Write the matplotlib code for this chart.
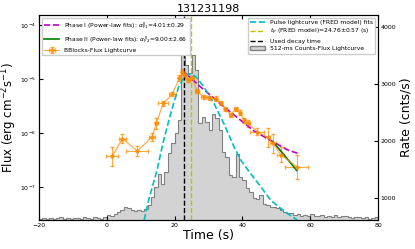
import numpy as np
import matplotlib
matplotlib.use('Agg')
import matplotlib.pyplot as plt
from matplotlib.patches import Patch

# BBlocks flux lightcurve (time, log10 flux, time err, log10 flux err)
bb_t = [1.6, 4.6, 9.0, 13.3, 14.6, 16.6, 19.3, 21.4, 22.3, 23.0, 24.0, 25.2, 26.6, 28.6,
        30.5, 32.1, 33.6, 35.0, 36.5, 38.0, 39.3, 40.5, 41.6, 44.4, 47.4, 49.0, 51.3, 56.0]
bb_logf = [-6.43, -6.10, -6.33, -6.07, -5.82, -5.45, -5.28, -4.98, -4.87, -4.93, -5.02, -4.98,
           -5.22, -5.33, -5.35, -5.36, -5.44, -5.55, -5.66, -5.55, -5.62, -5.76, -5.82, -5.97,
           -6.08, -6.19, -6.40, -6.62]
bb_terr = [1.8, 1.1, 3.2, 0.8, 0.4, 1.4, 1.1, 0.4, 0.3, 0.3, 0.4, 0.4, 0.6, 0.8,
           0.6, 0.5, 0.5, 0.5, 0.5, 0.5, 0.4, 0.4, 0.6, 2.1, 0.8, 0.8, 1.0, 3.4]
bb_ferr = [0.17, 0.09, 0.09, 0.08, 0.10, 0.05, 0.04, 0.05, 0.05, 0.05, 0.04, 0.04, 0.04, 0.04,
           0.04, 0.04, 0.04, 0.04, 0.04, 0.04, 0.05, 0.05, 0.06, 0.06, 0.17, 0.17, 0.14, 0.22]

# power-law fits
p1_t = [23.2, 27.6, 34.5, 43.4, 53.3, 56.6]
p1_logf = [-4.89, -5.14, -5.51, -5.96, -6.31, -6.38]
p2_t = [49.0, 52.5, 56.0]
p2_logf = [-6.16, -6.42, -6.69]

# FRED pulse fit
fred_t = [11.0, 12.5, 14.8, 16.5, 18.3, 19.7, 21.2, 23.0, 24.5, 26.2, 28.6, 31.6,
          34.5, 37.5, 39.5, 42.4, 45.5, 48.3, 51.0, 53.3, 56.2]
fred_logf = [-7.61, -7.20, -6.69, -6.20, -5.76, -5.45, -5.14, -4.95, -4.90, -4.95, -5.14, -5.45,
             -5.82, -6.25, -6.50, -6.75, -7.00, -7.24, -7.38, -7.49, -7.61]

t_peak = 24.76
t_decay = 22.9

# counts lightcurve, 1 s bins starting at -20
rate = [640, 650, 630, 655, 640, 645, 660, 640, 650, 635, 645, 655, 640, 660, 650, 640, 665, 650, 640, 670,
        700, 690, 720, 760, 800, 850, 820, 800, 780, 790, 780, 810, 880, 1020, 1200, 1430, 1250, 1450, 1790, 1960,
        2140, 2370, 3710, 3330, 3200, 3510, 3250, 2310, 2430, 2340, 2200, 2480, 2400, 2190, 1810, 1720, 1400, 1370, 1780, 1370,
        1315, 1170, 1100, 995, 990, 1050, 900, 880, 850, 840, 830, 800, 760, 740, 735, 700, 720, 690, 700, 680,
        720, 690, 680, 700, 670, 690, 670, 700, 660, 680, 690, 660, 650, 670, 660, 650, 670, 640, 650, 660]
edges = np.arange(-20, 81, 1.0)

fig = plt.figure(figsize=(4.15, 2.49), dpi=100)
ax1 = fig.add_axes([0.094, 0.116, 0.817, 0.824])
ax2 = ax1.twinx()
ax1.set_zorder(ax2.get_zorder() + 1)
ax1.patch.set_visible(False)

ax2.stairs(rate, edges, baseline=0, fill=True, color='lightgray', zorder=1)
ax2.stairs(rate, edges, baseline=0, color='gray', lw=0.8, zorder=2)
ax2.set_ylim(614, 4210)

f = 10.0 ** np.array(bb_logf)
ferr = [f - 10.0 ** (np.array(bb_logf) - np.array(bb_ferr)),
        10.0 ** (np.array(bb_logf) + np.array(bb_ferr)) - f]
eb = ax1.errorbar(bb_t, f, xerr=bb_terr, yerr=ferr, fmt='-*', color='darkorange', ms=3,
                  lw=0.8, elinewidth=0.8, capsize=1.5, alpha=0.75)
l1, = ax1.plot(p1_t, 10.0 ** np.array(p1_logf), '--', color='m', lw=1.2)
l2, = ax1.plot(p2_t, 10.0 ** np.array(p2_logf), '-', color='g', lw=1.2)
ax1.plot(fred_t, 10.0 ** np.array(fred_logf), '--', color='c', lw=1.2)
ax1.axvline(t_decay, color='k', ls='--', lw=1.0)
ax1.axvline(t_peak, color='y', ls='--', lw=1.0)

ax1.set_yscale('log')
ax1.set_ylim(2.45e-8, 1.55e-4)
ax1.set_xlim(-20, 80)

ax1.tick_params(direction='in', labelsize=4.5, top=True, length=3, pad=2)
ax1.tick_params(which='minor', length=0)
ax2.tick_params(direction='in', labelsize=4.5, length=3, pad=2)
ax2.set_yticks([1000, 2000, 3000, 4000])

ax1.set_xlabel('Time (s)', fontsize=9, labelpad=1)
ax1.set_ylabel(r'Flux (erg cm$^{-2}$s$^{-1}$)', fontsize=8.5)
ax1.yaxis.set_label_coords(-0.06, 0.5)
ax2.set_ylabel('Rate (cnts/s)', fontsize=9, labelpad=2)
ax1.set_title('131231198', fontsize=8, pad=2)

rh = [plt.Line2D([], [], color='c', ls='--', lw=1.2),
      plt.Line2D([], [], color='y', ls='--', lw=1.0),
      plt.Line2D([], [], color='k', ls='--', lw=1.0),
      Patch(facecolor='lightgray', edgecolor='gray')]
rl = ['Pulse lightcurve (FRED model) fits', r'$t_p$ (FRED model)=24.76$\pm$0.57 (s)',
      'Used decay time', '512-ms Counts-Flux Lightcurve']
leg_r = ax1.legend(rh, rl, loc='upper right', fontsize=4.3, fancybox=False, framealpha=1,
                   handlelength=2.5, borderpad=0.4, labelspacing=0.3)
ax1.add_artist(leg_r)
ax1.legend([l1, l2, eb],
           [r'Phase I (Power-law fits): $\alpha^{\rm II}_{\rm F1}$=4.01$\pm$0.29',
            r'Phase II (Power-law fits): $\alpha^{\rm II}_{\rm F2}$=9.00$\pm$2.66',
            'BBlocks-Flux Lightcurve'],
           loc='upper left', fontsize=4.3, fancybox=False, framealpha=1,
           handlelength=2.5, borderpad=0.4, labelspacing=0.5)

fig.savefig('out.png', dpi=100)
